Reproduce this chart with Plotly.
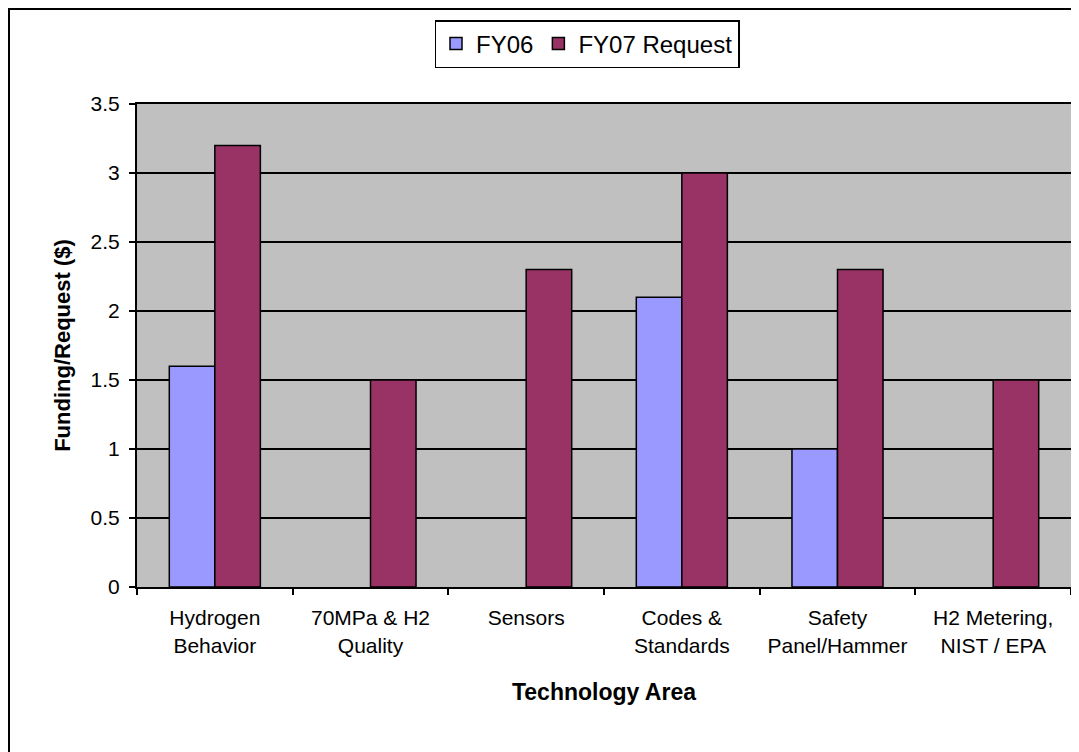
import plotly.graph_objects as go

categories = ["Hydrogen<br>Behavior", "70MPa & H2<br>Quality", "Sensors",
              "Codes &<br>Standards", "Safety<br>Panel/Hammer", "H2 Metering,<br>NIST / EPA"]
fy06 = [1.6, None, None, 2.1, 1.0, None]
fy07_request = [3.2, 1.5, 2.3, 3.0, 2.3, 1.5]

FONT = "Liberation Sans, Arial, sans-serif"

# page body has an 8px offset; work in page pixels and subtract it
OFF = 8
FW, FH = 1079 - OFF, 752 - OFF

fig = go.Figure()
fig.add_trace(go.Bar(name="FY06", x=categories, y=fy06,
                     marker=dict(color="#9999FF", line=dict(color="black", width=1.5))))
fig.add_trace(go.Bar(name="FY07 Request", x=categories, y=fy07_request,
                     marker=dict(color="#993366", line=dict(color="black", width=1.5))))

# plot area in page pixels: x 137..1071, y 104..587
L, R, T, B = 137 - OFF, 1071 - OFF, 104 - OFF, 587 - OFF
W, H = R - L, B - T

def px_x(p):
    return (p - OFF - L) / W

def px_y(p):
    return (B - (p - OFF)) / H

fig.update_layout(
    width=FW, height=FH,
    margin=dict(l=L, r=FW - R, t=T, b=FH - B, autoexpand=False),
    paper_bgcolor="white", plot_bgcolor="#C0C0C0",
    barmode="group", bargap=0.415, bargroupgap=0,
    font=dict(family=FONT, color="black", size=20),
    showlegend=True,
    legend=dict(orientation="h", x=px_x(587), y=px_y(44), xanchor="center", yanchor="middle",
                bordercolor="black", borderwidth=1.5, bgcolor="white",
                font=dict(size=24, family=FONT, color="black"),
                tracegroupgap=0),
    xaxis=dict(
        title=dict(text="<b>Technology Area</b>", font=dict(size=23, family=FONT), standoff=28),
        tickson="boundaries", ticks="outside", ticklen=6, tickcolor="black", tickwidth=1.5,
        showgrid=False, showline=True, linecolor="black", linewidth=2, mirror=True,
        tickfont=dict(size=21, family=FONT), ticklabelstandoff=11,
    ),
    yaxis=dict(
        title=dict(text="<b>Funding/Request ($)</b>", font=dict(size=22, family=FONT), standoff=14),
        range=[0, 3.5], dtick=0.5, tick0=0,
        ticks="outside", ticklen=6, tickcolor="black", tickwidth=1.5,
        showgrid=True, gridcolor="black", gridwidth=1.5,
        showline=True, linecolor="black", linewidth=2, mirror=True,
        zeroline=False, tickfont=dict(size=21, family=FONT), ticklabelstandoff=5,
    ),
    shapes=[dict(type="rect", xref="paper", yref="paper",
                 x0=px_x(9), x1=px_x(1095), y0=px_y(9), y1=px_y(775),
                 line=dict(color="black", width=2), fillcolor="rgba(0,0,0,0)", layer="below")],
)

fig.write_html("out.html")
